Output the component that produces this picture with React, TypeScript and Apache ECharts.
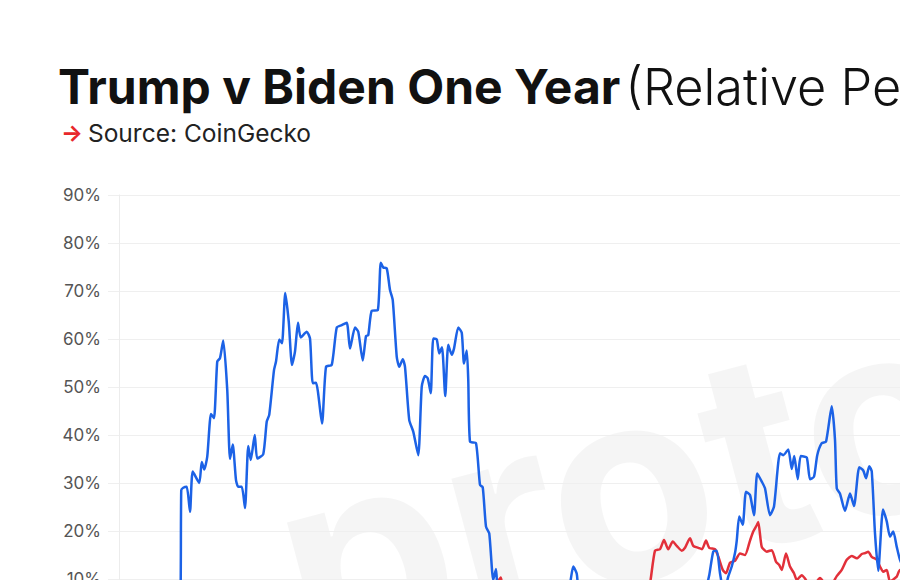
import React, { useEffect, useRef } from "react";
import * as echarts from "echarts";

const TITLE_BOLD = "Trump v Biden One Year";
const TITLE_REGULAR = "(Relative Performance)";
const SOURCE = "Source: CoinGecko";
const Y_TICKS = [0, 10, 20, 30, 40, 50, 60, 70, 80, 90];

// [day, relative performance %]
const trumpDays = [0, 24.4, 24.9, 25.7, 27.1, 28.4, 29.5, 32.1, 33.1, 34.1, 35.3, 36.8, 38, 39.3, 40.4, 41.7, 43.3, 44.4, 45.5, 46.8, 47.7, 49.1, 50.4, 51.7, 52.7, 54.3, 55.3, 57.7, 59.1, 60.1, 62, 62.8, 64.1, 65.2, 66.5, 67.9, 69.2, 70.4, 71.6, 72.7, 75.1, 76.4, 77.5, 78.8, 81.2, 82.8, 85.1, 87.1, 89.1, 91.1, 92.4, 94.4, 95.7, 97.5, 98.8, 99.7, 101.1, 103.5, 104.7, 105.7, 107.1, 108.4, 109.5, 111.1, 112.1, 113.5, 114.4, 116.1, 117.7, 119.7, 121.1, 122.4, 123.5, 124.7, 125.7, 127.1, 128.1, 129.2, 130.5, 131.7, 133.1, 134, 135.7, 137.1, 138, 139.1, 139.7, 140.4, 142.8, 144.4, 145.5, 146.8, 148.1, 149.7, 150.8, 151.7, 154.4, 160.4, 166.4, 172.4, 178.4, 180.4, 181.7, 183.1, 184, 188.4, 194.4, 200.4, 206.4, 212.4, 218.4, 224.4, 230.4, 235.1, 236.1, 237.7, 239.1, 240.4, 242, 243.7, 245.1, 246.4, 247.1, 248.1, 249.5, 250.8, 252.4, 254, 255.3, 257.1, 258.4, 260.4, 262, 264.4, 265.7, 267.7, 269.1, 270.1, 271.5, 272.7, 275.1, 276.4, 278, 279.3, 281.1, 282.8, 285.1, 286.4, 287.1, 288.4, 290.4, 292.4, 294, 296.1, 297.7, 298.8, 300.1, 301.1, 302.4, 303.7, 305.6, 307.1, 308.4, 309.7, 311.1, 312.4, 314.4, 318.4, 322, 330, 340, 350, 365];
const trumpValues = [0, 2, 28.5, 29, 29.2, 24, 32.4, 30, 34.4, 32.8, 35.5, 44.4, 43.5, 55.3, 56, 59.7, 49.4, 35, 38, 30.6, 29.2, 29.2, 24.8, 37.7, 34.8, 40, 35.1, 36, 42.8, 44.2, 53.5, 55.3, 59.9, 59.1, 69.6, 63.6, 54.6, 57.4, 63.4, 60.3, 61.5, 60.1, 50.8, 50.9, 42.4, 54.2, 54.6, 62.4, 62.9, 63.4, 58, 62.4, 61.5, 55.5, 60.6, 60.8, 65.9, 66, 75.9, 74.9, 74.7, 70.2, 68.1, 56.3, 54.2, 55.8, 54.2, 43.1, 40.7, 35.8, 50.1, 52.3, 51.8, 48.7, 60.1, 59.9, 57, 58.3, 48.1, 58.8, 56.7, 58, 62.4, 61.3, 54.9, 57.6, 51.5, 38.6, 38.3, 29.6, 29.1, 20.9, 19.5, 9.8, 12.1, 6, 4, 7, 5, 8, 6, 9, 12.6, 11.1, 7, 3, 5, 2, 4, 6, 3, 5, 7, 9, 10.8, 15.7, 15.9, 11.2, 7, 10.5, 12.6, 15.4, 18, 23, 21.3, 28.2, 27.5, 23.3, 32, 30.3, 28.9, 23.3, 25.1, 36.2, 35.8, 37, 32.9, 35.6, 30.8, 35.6, 35.3, 30.8, 31.3, 35.8, 38.3, 38.6, 46, 39, 28.9, 27.8, 24.2, 27.8, 25.2, 33.3, 32.6, 31, 33.5, 32.4, 19.5, 11.7, 24.5, 22, 18.8, 19.9, 16.7, 14, 12, 15, 10, 13, 9, 11, 8];

const bidenDays = [0, 10, 40, 80, 120, 145, 150, 152.7, 153.6, 158.4, 164.4, 170.4, 176.4, 182.4, 188.4, 194.4, 200.4, 206.4, 211.6, 212.4, 214.4, 216.4, 218, 219.7, 221.5, 223.1, 225.1, 226.4, 228.4, 229.7, 231.7, 233.2, 234.8, 236.1, 238.4, 239.7, 241.5, 242.8, 244.4, 246.4, 248.4, 250.4, 252.4, 253.7, 255.1, 255.7, 257.1, 259.1, 261.1, 262.8, 264.1, 265.1, 266.8, 268.4, 270, 271.1, 273.1, 274.4, 276.4, 278.4, 280.4, 282.4, 284.4, 287.1, 289.1, 291.1, 293.1, 295.1, 297.1, 298.4, 299.7, 301.1, 303.1, 304.4, 305.7, 307.1, 308.4, 311.1, 312.4, 320, 335, 350, 365];
const bidenValues = [0, 2, 4, 3, 6, 5, 8, 10.3, 8, 6, 7, 5, 4, 6, 5, 3, 5, 7, 8, 9, 15.9, 16.2, 18.1, 16.2, 17.8, 16.9, 15.9, 16.5, 18.5, 16.9, 16.5, 16.2, 18, 16.5, 16.2, 14.7, 11.9, 11.2, 13.4, 13.8, 15.3, 15, 18, 19.9, 21.2, 21.9, 16.7, 15.7, 16, 13.6, 12.9, 11.9, 15.3, 12.6, 11.2, 9.8, 10.8, 10.1, 8.5, 9, 10.2, 9, 8.5, 10.6, 11.9, 14, 14.8, 14.3, 15.2, 15.4, 15.7, 14.6, 14, 12.6, 11.5, 11.9, 9.5, 10.5, 11.9, 10, 8, 9, 7];

const pairs = (xs: number[], ys: number[]) => xs.map((x, i) => [x, ys[i]]);

export default function App() {
  const ref = useRef<HTMLDivElement>(null);
  useEffect(() => {
    if (!ref.current) return;
    const chart = echarts.init(ref.current, null, { renderer: "svg" });
    const font = "Inter, 'Noto Sans', sans-serif";
    chart.setOption({
      animation: false,
      backgroundColor: "#ffffff",
      title: [
        {
          left: 58,
          top: 57,
          padding: 0,
          text: `{b|${TITLE_BOLD}} {r|${TITLE_REGULAR}}`,
          textStyle: {
            rich: {
              b: { fontFamily: font, fontWeight: 700, fontSize: 48, color: "#111111", lineHeight: 58 },
              r: { fontFamily: font, fontWeight: 300, fontSize: 50.5, color: "#111111", lineHeight: 58 },
            },
          },
        },
        {
          left: 61,
          top: 118,
          padding: 0,
          text: `{a|→} {s|${SOURCE}}`,
          textStyle: {
            rich: {
              a: { fontFamily: font, fontWeight: 700, fontSize: 23, color: "#e8282b", lineHeight: 30 },
              s: { fontFamily: font, fontWeight: 400, fontSize: 24.5, color: "#222222", lineHeight: 30 },
            },
          },
        },
      ],
      graphic: [
        {
          type: "text",
          z: -10,
          silent: true,
          x: 318,
          y: 705,
          rotation: 0.26,
          style: {
            text: "protos",
            font: `700 270px ${font}`,
            fill: "rgba(0,0,0,0.04)",
            textVerticalAlign: "bottom",
          },
        },
      ],
      grid: { left: 119, top: 195, width: 912.5, height: 432, containLabel: false },
      xAxis: {
        type: "value",
        min: 0,
        max: 365,
        axisLine: { show: false },
        axisTick: { show: false },
        axisLabel: { show: false },
        splitLine: { show: false },
      },
      yAxis: {
        type: "value",
        min: Y_TICKS[0],
        max: Y_TICKS[Y_TICKS.length - 1],
        interval: 10,
        axisLine: { show: true, lineStyle: { color: "#ececec", width: 1 } },
        axisTick: { show: true, length: 11, lineStyle: { color: "#efefef", width: 1 } },
        axisLabel: {
          formatter: "{value}%",
          margin: 18,
          fontFamily: font,
          fontSize: 17,
          color: "#555555",
        },
        splitLine: { show: true, lineStyle: { color: "#efefef", width: 1 } },
      },
      series: [
        {
          name: "Trump",
          type: "line",
          data: pairs(trumpDays, trumpValues),
          symbol: "none",
          smooth: 0.2,
          lineStyle: { color: "#1c62e6", width: 2.5 },
          z: 3,
        },
        {
          name: "Biden",
          type: "line",
          data: pairs(bidenDays, bidenValues),
          symbol: "none",
          smooth: 0.2,
          lineStyle: { color: "#e2303a", width: 2.5 },
          z: 2,
        },
      ],
    });
    return () => chart.dispose();
  }, []);
  return (
    <div
      style={{ position: "fixed", left: 0, top: 0, width: 900, height: 580, overflow: "hidden", background: "#fff" }}
    >
      <div ref={ref} style={{ width: 1100, height: 680 }} />
    </div>
  );
}
